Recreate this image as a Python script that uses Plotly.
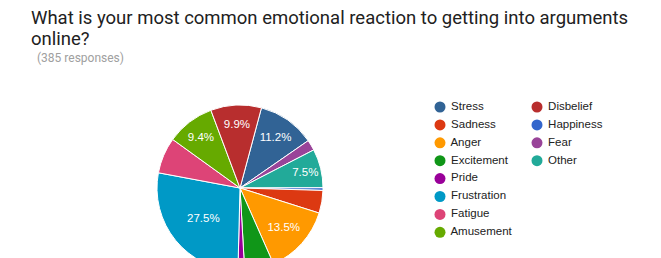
import plotly.graph_objects as go

# ---- data (385 responses) ----
slice_labels = ["Stress", "Fear", "Other", "Happiness", "Sadness", "Anger",
                "Excitement", "Pride", "Frustration", "Fatigue", "Amusement", "Disbelief"]
slice_values = [43, 8, 29, 2, 17, 52, 22, 5, 106, 27, 36, 38]

legend_col1 = ["Stress", "Sadness", "Anger", "Excitement", "Pride", "Frustration", "Fatigue", "Amusement"]
legend_col2 = ["Disbelief", "Happiness", "Fear", "Other"]

colors = {
    "Stress": "#316395", "Sadness": "#dc3912", "Anger": "#ff9900", "Excitement": "#109618",
    "Pride": "#990099", "Frustration": "#0099c6", "Fatigue": "#dd4477", "Amusement": "#66aa00",
    "Disbelief": "#b82e2e", "Happiness": "#3366cc", "Fear": "#994499", "Other": "#22aa99",
}

W, H = 661, 284
total = sum(slice_values)
show = [v / total >= 0.072 for v in slice_values]

fig = go.Figure()
fig.add_trace(go.Pie(
    labels=slice_labels, values=slice_values, sort=False, direction="clockwise",
    rotation=15,
    marker=dict(colors=[colors[l] for l in slice_labels], line=dict(color="white", width=1)),
    texttemplate="%{percent:.1%}",
    textposition=["inside" if s else "none" for s in show],
    insidetextorientation="horizontal",
    insidetextfont=dict(color="white", size=11.5, family="Arial, Liberation Sans"),
    domain=dict(x=[157 / W, 323 / W], y=[1 - 271 / H, 1 - 105 / H]),
    showlegend=False, hoverinfo="label+percent",
))

# legend drawn as marker+text scatter on a pixel-space hidden axis
for col_x, items in ((440, legend_col1), (537, legend_col2)):
    fig.add_trace(go.Scatter(
        x=[col_x] * len(items), y=[107 + 17.9 * i for i in range(len(items))],
        mode="markers+text", text=[" " + t for t in items], textposition="middle right",
        marker=dict(size=11, color=[colors[l] for l in items]),
        textfont=dict(size=11.5, color="#222222", family="Arial, Liberation Sans"),
        showlegend=False, hoverinfo="text", cliponaxis=False,
    ))

fig.update_layout(
    width=W, height=H, margin=dict(l=0, r=0, t=0, b=0),
    paper_bgcolor="white", plot_bgcolor="white",
    xaxis=dict(range=[0, W], visible=False, fixedrange=True),
    yaxis=dict(range=[H, 0], visible=False, fixedrange=True),
    annotations=[
        dict(text="What is your most common emotional reaction to getting into arguments",
             x=29 / W, y=1 - 18 / H, xref="paper", yref="paper", xanchor="left", yanchor="middle",
             showarrow=False, font=dict(family="Roboto", size=18.5, color="#212121")),
        dict(text="online?", x=29 / W, y=1 - 39 / H, xref="paper", yref="paper",
             xanchor="left", yanchor="middle", showarrow=False,
             font=dict(family="Roboto", size=18.5, color="#212121")),
        dict(text="(385 responses)", x=35 / W, y=1 - 58 / H, xref="paper", yref="paper",
             xanchor="left", yanchor="middle", showarrow=False,
             font=dict(family="Roboto", size=12, color="#a0a0a0")),
    ],
)

fig.write_html("out.html")
